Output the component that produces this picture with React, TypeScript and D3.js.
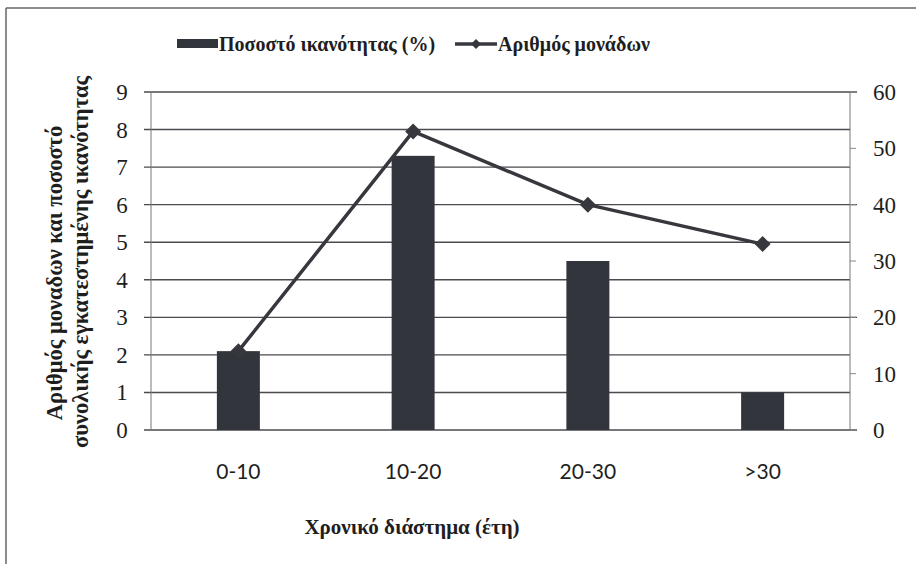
import React from "react";
import * as d3 from "d3";

const categories = ["0-10", "10-20", "20-30", ">30"];
const capacityPct = [2.1, 7.3, 4.5, 1.0];
const unitCount = [14, 53, 40, 33];
const leftTicks = [0, 1, 2, 3, 4, 5, 6, 7, 8, 9];
const rightTicks = [0, 10, 20, 30, 40, 50, 60];

const legendBar = "Ποσοστό ικανότητας (%)";
const legendLine = "Αριθμός μονάδων";
const yTitle1 = "Αριθμός μοναδων και ποσοστό";
const yTitle2 = "συνολικής εγκατεστημένης ικανότητας";
const xTitle = "Χρονικό διάστημα (έτη)";

const W = 916;
const H = 564;
const left = 151;
const right = 850;
const top = 92;
const bottom = 430;

const serif = "'Liberation Serif', 'Times New Roman', serif";
const sans = "Lato, 'Open Sans', sans-serif";

export default function App() {
  const x = d3.scaleBand<string>().domain(categories).range([left, right]).paddingInner(0).paddingOuter(0);
  const yL = d3.scaleLinear().domain([0, 9]).range([bottom, top]);
  const yR = d3.scaleLinear().domain([0, 60]).range([bottom, top]);
  const barW = x.bandwidth() * 0.246;
  const cx = (c: string) => (x(c) as number) + x.bandwidth() / 2;

  const line = d3
    .line<number>()
    .x((_, i) => cx(categories[i]))
    .y((v) => yR(v));

  const diamond = (px: number, py: number, r: number) =>
    `M${px},${py - r}L${px + r},${py}L${px},${py + r}L${px - r},${py}Z`;

  const grid = "#4a4a4f";
  const dark = "#33353c";

  return (
    <svg
      width={W}
      height={H}
      style={{ position: "absolute", left: 0, top: 0, background: "#fff" }}
    >
      {/* outer frame */}
      <line x1={6} y1={8} x2={W} y2={8} stroke="#666" strokeWidth={1.5} />
      <line x1={6} y1={8} x2={6} y2={H} stroke="#666" strokeWidth={1.5} />

      {/* gridlines */}
      {leftTicks.map((t) => (
        <line
          key={"g" + t}
          x1={left - 7}
          x2={t % 3 === 0 ? right + 7 : right}
          y1={yL(t)}
          y2={yL(t)}
          stroke={grid}
          strokeWidth={1.4}
        />
      ))}
      {/* axes */}
      <line x1={left} x2={left} y1={top} y2={bottom} stroke="#777" strokeWidth={1} />
      <line x1={right} x2={right} y1={top} y2={bottom} stroke="#777" strokeWidth={1} />
      {rightTicks.map((t) => (
        <line
          key={"rt" + t}
          x1={right}
          x2={right + 6}
          y1={yR(t)}
          y2={yR(t)}
          stroke="#888"
          strokeWidth={1}
        />
      ))}

      {/* bars */}
      {categories.map((c, i) => (
        <rect
          key={c}
          x={cx(c) - barW / 2}
          y={yL(capacityPct[i])}
          width={barW}
          height={yL(0) - yL(capacityPct[i])}
          fill={dark}
        />
      ))}

      {/* line series */}
      <path d={line(unitCount) || ""} fill="none" stroke="#36383e" strokeWidth={3.5} />
      {unitCount.map((v, i) => (
        <path key={"m" + i} d={diamond(cx(categories[i]), yR(v), 8)} fill="#36383e" />
      ))}

      {/* left tick labels */}
      {leftTicks.map((t) => (
        <text
          key={"lt" + t}
          x={left - 29}
          y={yL(t)}
          dy="0.35em"
          textAnchor="middle"
          fontFamily={serif}
          fontSize={23}
          fill="#1e1e1e"
        >
          {t}
        </text>
      ))}
      {/* right tick labels */}
      {rightTicks.map((t) => (
        <text
          key={"rl" + t}
          x={right + 23}
          y={yR(t)}
          dy="0.35em"
          textAnchor="start"
          fontFamily={serif}
          fontSize={23}
          fill="#1e1e1e"
        >
          {t}
        </text>
      ))}
      {/* category labels */}
      {categories.map((c) => (
        <text
          key={"cl" + c}
          x={cx(c)}
          y={472}
          dy="0.35em"
          textAnchor="middle"
          fontFamily={sans}
          fontSize={21}
          fill="#1e1e1e"
        >
          {c}
        </text>
      ))}

      {/* axis titles */}
      <text
        x={412}
        y={527}
        dy="0.35em"
        textAnchor="middle"
        fontFamily={serif}
        fontWeight="bold"
        fontSize={21}
        fill="#1e1e1e"
      >
        {xTitle}
      </text>
      <g transform="translate(54,273) rotate(-90)">
        <text x={0} y={0} dy="0.35em" textAnchor="middle" fontFamily={serif} fontWeight="bold" fontSize={22.5} fill="#1e1e1e">
          {yTitle1}
        </text>
      </g>
      <g transform="translate(80,262) rotate(-90)">
        <text x={0} y={0} dy="0.35em" textAnchor="middle" fontFamily={serif} fontWeight="bold" fontSize={22.5} fill="#1e1e1e">
          {yTitle2}
        </text>
      </g>

      {/* legend */}
      <rect x={177} y={39} width={41} height={9} fill={dark} />
      <text x={219} y={44} dy="0.35em" fontFamily={serif} fontWeight="bold" fontSize={20} fill="#1e1e1e">
        {legendBar}
      </text>
      <line x1={455} x2={497} y1={44} y2={44} stroke="#36383e" strokeWidth={3.5} />
      <path d={diamond(476, 44, 5)} fill="#36383e" />
      <text x={498} y={44} dy="0.35em" fontFamily={serif} fontWeight="bold" fontSize={20} fill="#1e1e1e">
        {legendLine}
      </text>
    </svg>
  );
}
